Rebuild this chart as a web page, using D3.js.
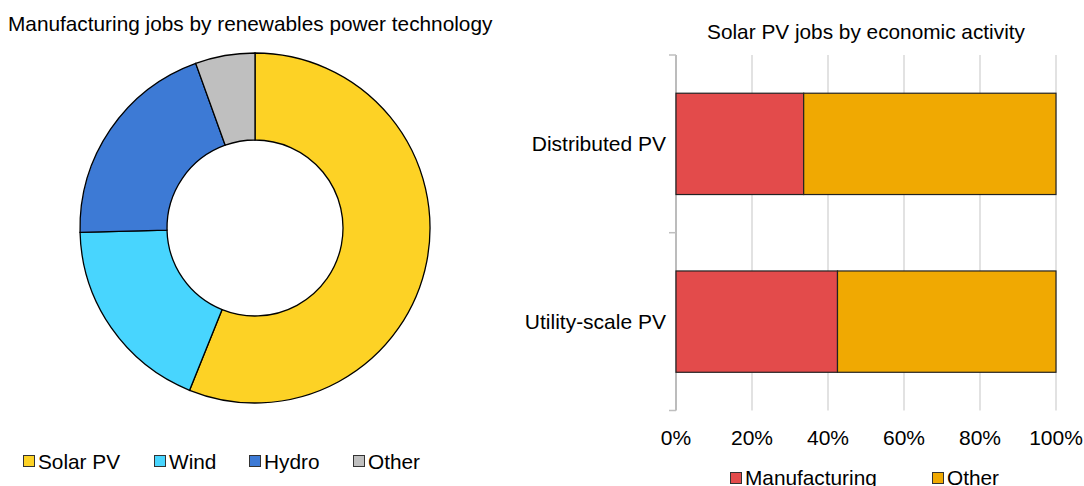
<!DOCTYPE html>
<html>
<head>
<meta charset="utf-8">
<script src="https://cdn.jsdelivr.net/npm/d3@7"></script>
<style>
body{margin:0;background:#fff;}
svg{font-family:"Liberation Sans",Arial,sans-serif;}
</style>
</head>
<body>
<div id="chart"></div>
<script>
// donut data (share of manufacturing jobs, %)
var techNames=["Solar PV","Wind","Hydro","Other"];
var techValues=[56.1,18.5,19.9,5.5];
var techColors=["#fdd225","#48d5fe","#3d7ad5","#bfbfbf"];

// bar data (share of solar PV jobs, %)
var pvCats=["Distributed PV","Utility-scale PV"];
var pvManufacturing=[33.6,42.5];
var pvOther=[66.4,57.5];
var pvSeries=["Manufacturing","Other"];
var pvColors=["#e34b4b","#f0a902"];
var xTicks=[0,20,40,60,80,100];

var W=1084,H=486;
var svg=d3.select("#chart").append("svg")
    .attr("width",W)
    .attr("height",H);

// ---- left: donut ----
svg.append("text")
    .attr("x",8).attr("y",31)
    .style("font-size","20.8px")
    .text("Manufacturing jobs by renewables power technology");

var pie=d3.pie().sort(null).value(function(d){return d;});
var arc=d3.arc().innerRadius(88).outerRadius(175);
var g=svg.append("g").attr("transform","translate(255,228)");
g.selectAll("path")
    .data(pie(techValues))
    .enter()
    .append("path")
    .attr("d",arc)
    .style("fill",function(d,i){return techColors[i];})
    .style("stroke","#000")
    .style("stroke-width",1.3);

var legX=[23,154,249,353];
var lg=svg.selectAll(".lg1")
    .data(techNames)
    .enter()
    .append("g")
    .attr("transform",function(d,i){return "translate("+legX[i]+",455)";});
lg.append("rect")
    .attr("x",0.5).attr("y",0.5)
    .attr("width",11).attr("height",11)
    .style("fill",function(d,i){return techColors[i];})
    .style("stroke","#333");
lg.append("text")
    .attr("x",15).attr("y",13.5)
    .style("font-size","20.8px")
    .text(function(d){return d;});

// ---- right: stacked bars ----
svg.append("text")
    .attr("x",866).attr("y",39)
    .attr("text-anchor","middle")
    .style("font-size","20.8px")
    .text("Solar PV jobs by economic activity");

var x=d3.scaleLinear().domain([0,100]).range([676,1056]);
var y=d3.scaleBand().domain(pvCats).range([55,410.5]).paddingInner(0.43).paddingOuter(0.215);

// gridlines
svg.selectAll(".grid")
    .data(xTicks.slice(1))
    .enter()
    .append("line")
    .attr("x1",function(d){return x(d);})
    .attr("x2",function(d){return x(d);})
    .attr("y1",55).attr("y2",410.5)
    .style("stroke","#d9d9d9")
    .style("stroke-width",1.5);

// category axis
var yAxis=svg.append("g").attr("transform","translate(676,0)");
yAxis.append("line")
    .attr("x1",0).attr("x2",0)
    .attr("y1",55).attr("y2",410.5)
    .style("stroke","#a6a6a6").style("stroke-width",1.5);
yAxis.selectAll(".tk")
    .data([55,232.7,410.5])
    .enter()
    .append("line")
    .attr("x1",-7).attr("x2",0)
    .attr("y1",function(d){return d;})
    .attr("y2",function(d){return d;})
    .style("stroke","#bfbfbf").style("stroke-width",1.5);
yAxis.selectAll(".cl")
    .data(pvCats)
    .enter()
    .append("text")
    .attr("x",-10)
    .attr("y",function(d){return y(d)+y.bandwidth()/2;})
    .attr("dy","0.35em")
    .attr("text-anchor","end")
    .style("font-size","21px")
    .text(function(d){return d;});

// stacked bars
var rows=pvCats.map(function(c,i){return {cat:c,Manufacturing:pvManufacturing[i],Other:pvOther[i]};});
var stack=d3.stack().keys(pvSeries)(rows);
svg.selectAll(".layer")
    .data(stack)
    .enter()
    .append("g")
    .style("fill",function(d,i){return pvColors[i];})
    .selectAll("rect")
    .data(function(d){return d;})
    .enter()
    .append("rect")
    .attr("x",function(d){return x(d[0]);})
    .attr("y",function(d){return y(d.data.cat);})
    .attr("width",function(d){return x(d[1])-x(d[0]);})
    .attr("height",y.bandwidth())
    .style("stroke","#222")
    .style("stroke-width",1.2);

// x tick labels
svg.selectAll(".xl")
    .data(xTicks)
    .enter()
    .append("text")
    .attr("x",function(d){return x(d);})
    .attr("y",445)
    .attr("text-anchor","middle")
    .style("font-size","21px")
    .text(function(d){return d+"%";});

var legX2=[730,932];
var lg2=svg.selectAll(".lg2")
    .data(pvSeries)
    .enter()
    .append("g")
    .attr("transform",function(d,i){return "translate("+legX2[i]+",472)";});
lg2.append("rect")
    .attr("x",0.5).attr("y",0.5)
    .attr("width",11).attr("height",11)
    .style("fill",function(d,i){return pvColors[i];})
    .style("stroke","#333");
lg2.append("text")
    .attr("x",15).attr("y",13)
    .style("font-size","20.8px")
    .text(function(d){return d;});
</script>
</body>
</html>
